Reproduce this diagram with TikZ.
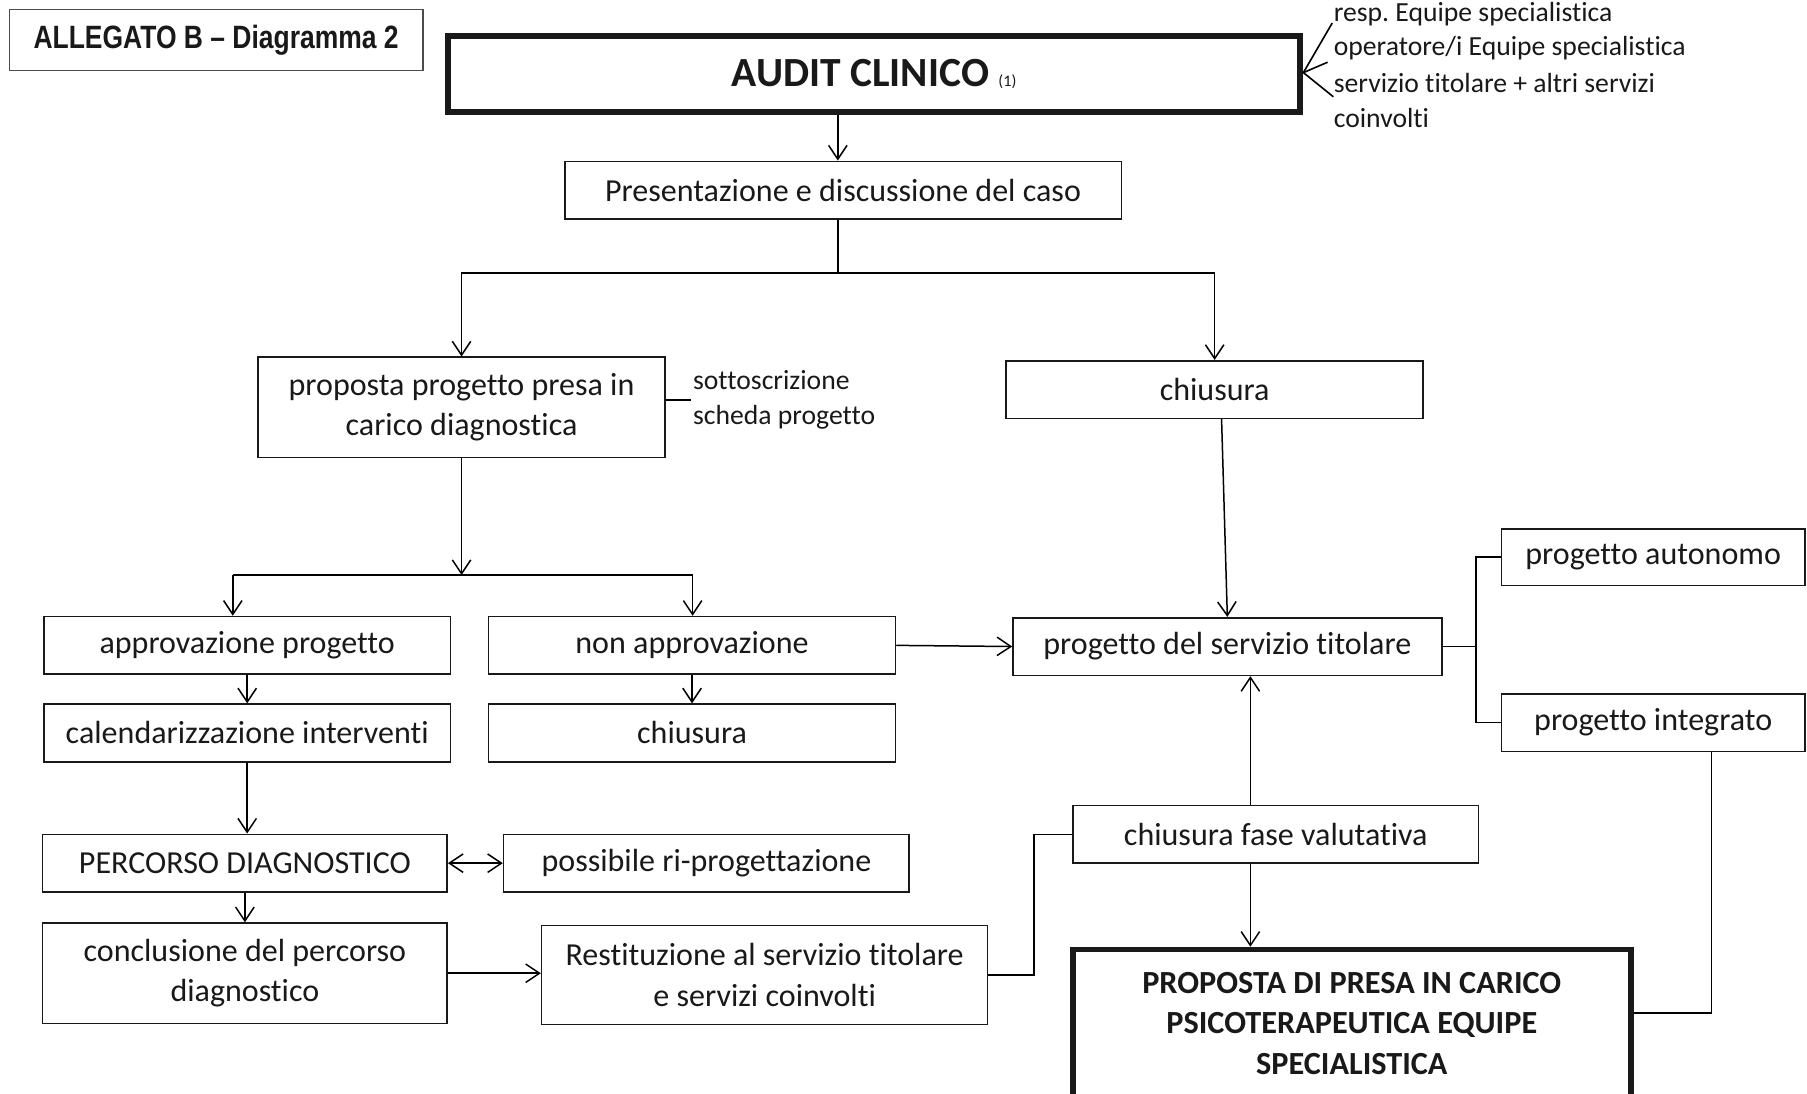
\documentclass[tikz,border=0pt]{standalone}
\usepackage{fontspec}
\setmainfont{Carlito}[Ligatures={TeX,NoCommon}]
\newfontfamily\narrowfont[FakeStretch=0.82]{Liberation Sans}
\usetikzlibrary{arrows.meta}
\tikzset{
  box/.style={draw=black!90, line width=0.7pt, inner sep=0pt, align=center, font=\fontsize{13.9}{17.5}\selectfont, text=black!90},
  thickbox/.style={box, line width=2.5pt},
  arr/.style={line width=0.65pt, -{Straight Barb[length=6pt,width=8pt,line width=0.65pt]}},
  lnk/.style={line width=0.7pt},
  note/.style={anchor=west, inner sep=0pt, font=\fontsize{12}{15}\selectfont, text=black!90}
}
\begin{document}
\begin{tikzpicture}[x=0.5pt,y=-0.5pt]
\useasboundingbox (0,0) rectangle (1568,949);
\begin{scope}
\clip (0,0) rectangle (1568,949);
% nodes
\node[box, draw=black!70, line width=0.5pt, minimum width=179.5pt, minimum height=26.5pt, font=\narrowfont\bfseries\fontsize{14}{16}\selectfont] (alleg) at (187.5,34.5) {ALLEGATO B – Diagramma 2};
\node[thickbox, minimum width=369.5pt, minimum height=33pt] (audit) at (758.5,64) {\fontsize{18}{20}\selectfont\bfseries AUDIT CLINICO {\fontsize{7}{8}\selectfont\mdseries (1)}};
\node[box, minimum width=241.5pt, minimum height=25pt] (pres) at (731.5,165) {Presentazione e discussione del caso};
\node[box, minimum width=176.5pt, minimum height=43.5pt] (prop) at (400.5,353.5) {proposta progetto presa in\\carico diagnostica};
\node[box, minimum width=181pt, minimum height=25pt] (chius1) at (1054,338) {chiusura};
\node[box, minimum width=176.5pt, minimum height=25pt] (appr) at (214.5,560) {approvazione progetto};
\node[box, minimum width=176.5pt, minimum height=25pt] (nonappr) at (600.5,560) {non approvazione};
\node[box, minimum width=186pt, minimum height=25pt] (pst) at (1065,561) {progetto del servizio titolare};
\node[box, minimum width=176.5pt, minimum height=25pt] (cal) at (214.5,636) {calendarizzazione interventi};
\node[box, minimum width=176.5pt, minimum height=25pt] (chius2) at (600.5,636) {chiusura};
\node[box, minimum width=175.5pt, minimum height=25pt] (perc) at (212.5,749) {PERCORSO DIAGNOSTICO};
\node[box, minimum width=176pt, minimum height=25pt] (poss) at (613,749) {possibile ri-progettazione};
\node[box, minimum width=175.5pt, minimum height=43.5pt] (concl) at (212.5,844.5) {conclusione del percorso\\diagnostico};
\node[box, minimum width=193.5pt, minimum height=43pt] (rest) at (663.5,846) {Restituzione al servizio titolare\\e servizi coinvolti};
\node[box, minimum width=176pt, minimum height=25pt] (cfv) at (1107,724) {chiusura fase valutativa};
\node[thickbox, minimum width=242pt, minimum height=64pt, font=\bfseries\fontsize{14}{17.5}\selectfont] (propps) at (1173,888) {PROPOSTA DI PRESA IN CARICO\\PSICOTERAPEUTICA EQUIPE\\SPECIALISTICA};
\node[box, minimum width=131.5pt, minimum height=24.5pt] (auton) at (1434.5,483.5) {progetto autonomo};
\node[box, minimum width=131.5pt, minimum height=25pt] (integ) at (1434.5,627) {progetto integrato};
% notes
\node[note] (n1) at (1157,12) {resp.\ Equipe specialistica};
\node[note] (n2) at (1157,42) {operatore/i Equipe specialistica};
\node[note] (n3) at (1157,72) {servizio titolare + altri servizi};
\node[note] (n4) at (1157,102) {coinvolti};
\node[note] (sotto) at (601,330) {sottoscrizione};
\node[note] (scheda) at (601,362) {scheda progetto};
% coordinates
\coordinate (ao) at (1131,63);
\coordinate (a1) at (1156,20);
\coordinate (a2) at (1152,54);
\coordinate (a3) at (1157,84);
\coordinate (j0) at (727,237);
\coordinate (sl) at (600,347);
\coordinate (jl) at (202,499);
\coordinate (jr) at (601,499);
\coordinate (k) at (897,724);
\coordinate (xc) at (1085,0);
\coordinate (b) at (1281,561);
\coordinate (m) at (1485,879);
% connectors
\draw[lnk] (a1) -- (ao) -- (a3);
\draw[lnk] (ao) -- (a2);
\draw[arr] (audit.south -| j0) -- (pres.north -| j0);
\draw[lnk] (pres.south -| j0) -- (j0);
\draw[arr] (j0) -| (prop.north);
\draw[arr] (j0) -| (chius1.north);
\draw[lnk] (prop.east |- sl) -- (sl);
\draw[arr] (prop.south) -- (prop.south |- jl);
\draw[lnk] (jl) -- (jr);
\draw[arr] (jl) -- (appr.north -| jl);
\draw[arr] (jr) -- (nonappr.north -| jr);
\draw[arr] (nonappr.east) -- (pst.west);
\draw[arr] ([xshift=3pt]chius1.south) -- (pst.north);
\draw[arr] (appr.south) -- (cal.north);
\draw[arr] (nonappr.south) -- (chius2.north);
\draw[arr] (cal.south) -- (cal.south |- perc.north);
\draw[arr] (perc.south) -- (concl.north);
\draw[line width=0.65pt, {Straight Barb[length=6pt,width=8pt,line width=0.65pt]}-{Straight Barb[length=6pt,width=8pt,line width=0.65pt]}] (perc.east) -- (poss.west);
\draw[arr] (concl.east) -- (concl.east -| rest.west);
\draw[lnk] (rest.east) -| (k) -- (cfv.west);
\draw[arr] (cfv.north -| xc) -- (pst.south -| xc);
\draw[arr] (cfv.south -| xc) -- (propps.north -| xc);
\draw[lnk] (pst.east) -- (b);
\draw[lnk] (auton.west) -- (auton.west -| b) -- (integ.west -| b) -- (integ.west);
\draw[lnk] (integ.south -| m) -- (m) -- (propps.east |- m);
\end{scope}
\end{tikzpicture}
\end{document}
